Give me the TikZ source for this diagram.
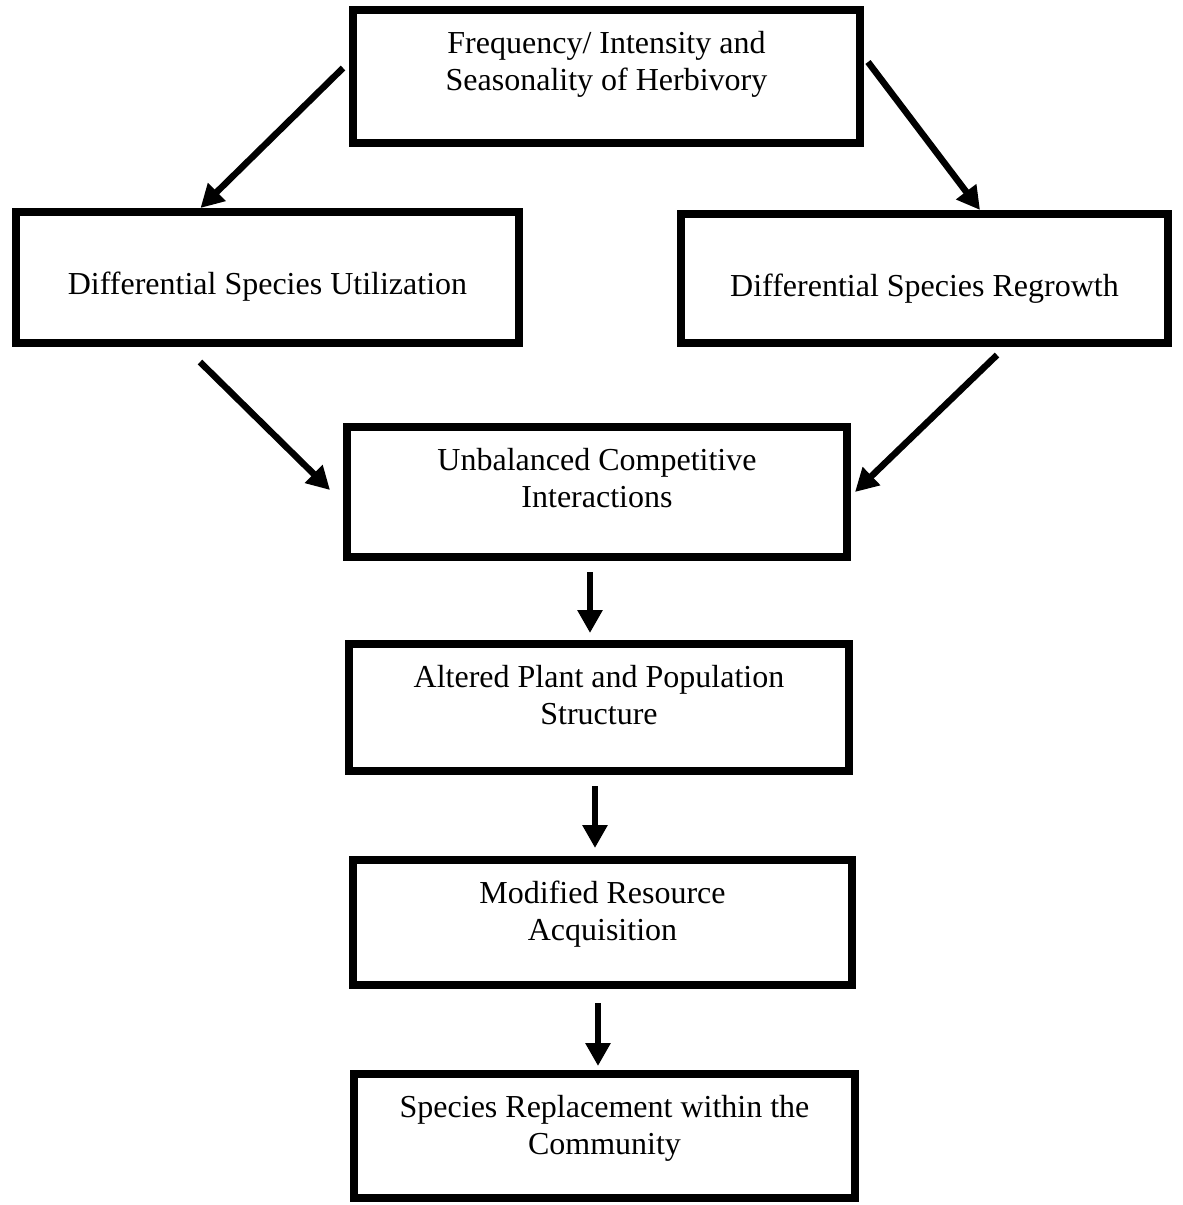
\documentclass[tikz,border=0pt]{standalone}
\usepackage{fontspec}
\setmainfont{Liberation Serif}
\usetikzlibrary{arrows.meta,positioning}

\begin{document}
\begin{tikzpicture}[x=1pt, y=-1pt, >={Triangle[length=23pt,width=24pt]},
  box/.style={draw, line width=8pt, inner sep=0pt},
  lbl/.style={align=center, inner sep=0pt, font=\fontsize{32}{37}\selectfont},
  arr/.style={->, line width=6.5pt}]
\useasboundingbox (0,0) rectangle (1183,1205);
% boxes
\node[box, minimum width=507pt, minimum height=133pt] (freq) at (606.5,76.5) {};
\node[box, minimum width=503pt, minimum height=131pt] (util) at (267.5,277.5) {};
\node[box, minimum width=487pt, minimum height=129pt] (regrow) at (924.5,278.5) {};
\node[box, minimum width=500pt, minimum height=130pt] (unbal) at (597,492) {};
\node[box, minimum width=500pt, minimum height=127pt] (alter) at (599,707.5) {};
\node[box, minimum width=499pt, minimum height=125pt] (modif) at (602.5,922.5) {};
\node[box, minimum width=501pt, minimum height=124pt] (repl) at (604.5,1136) {};
% texts
\node[lbl, below=25pt of freq.north] (freq-t) {Frequency/ Intensity and\\Seasonality of Herbivory};
\node[lbl, below=64pt of util.north] (util-t) {Differential Species Utilization};
\node[lbl, below=64pt of regrow.north] (regrow-t) {Differential Species Regrowth};
\node[lbl, below=25pt of unbal.north] (unbal-t) {Unbalanced Competitive\\Interactions};
\node[lbl, below=25pt of alter.north] (alter-t) {Altered Plant and Population\\Structure};
\node[lbl, below=25pt of modif.north] (modif-t) {Modified Resource\\Acquisition};
\node[lbl, below=25pt of repl.north] (repl-t) {Species Replacement within the\\Community};
% arrows
\coordinate (a1s) at (343,68);
\coordinate (a2s) at (868,62);
\coordinate (a3s) at (200,362);
\coordinate (a4s) at (997,355);
\draw[arr] (a1s) -- ([xshift=-67pt]util.north);
\draw[arr] (a2s) -- ([xshift=55.5pt]regrow.north);
\draw[arr] (a3s) -- ([xshift=-13pt,yshift=2pt]unbal.west);
\draw[arr] (a4s) -- ([xshift=4pt]unbal.east);
\draw[arr] ([xshift=-7pt,yshift=-11pt]unbal.south) -- ([xshift=-9pt,yshift=7pt]alter.north);
\draw[arr] ([xshift=-4pt,yshift=-11pt]alter.south) -- ([xshift=-7.5pt,yshift=8pt]modif.north);
\draw[arr] ([xshift=-4.5pt,yshift=-14pt]modif.south) -- ([xshift=-6.5pt,yshift=4pt]repl.north);
\end{tikzpicture}
\end{document}
